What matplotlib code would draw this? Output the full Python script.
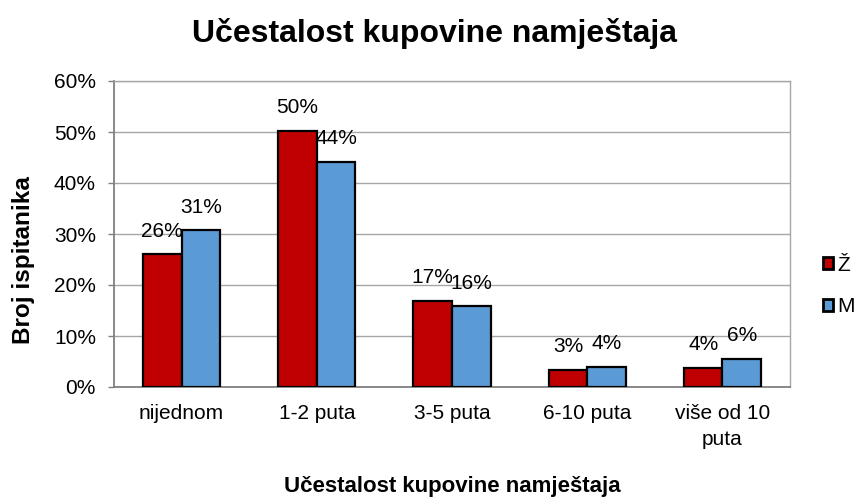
import matplotlib
matplotlib.use("Agg")
import matplotlib.pyplot as plt
import numpy as np

plt.rcParams['font.family'] = ['Liberation Sans', 'DejaVu Sans']

categories = ["nijednom", "1-2 puta", "3-5 puta", "6-10 puta", "više od 10\nputa"]
zene = [26.0, 50.2, 16.8, 3.3, 3.7]
muskarci = [30.7, 44.1, 15.8, 4.0, 5.5]
series_names = ["Ž", "M"]
yticks = [0, 10, 20, 30, 40, 50, 60]
title = "Učestalost kupovine namještaja"

W, H = 856, 499
fig = plt.figure(figsize=(W/100, H/100), dpi=100)
L, R, T, B = 114, 790, 81, 387
ax = fig.add_axes([L/W, 1 - B/H, (R-L)/W, (B-T)/H])

x = np.arange(len(categories))
w = 0.285
b1 = ax.bar(x - w/2, zene, w, color="#C00000", edgecolor="black", linewidth=1.6, label=series_names[0], zorder=3)
b2 = ax.bar(x + w/2, muskarci, w, color="#5B9BD5", edgecolor="black", linewidth=1.6, label=series_names[1], zorder=3)

for bars, vals in ((b1, zene), (b2, muskarci)):
    for rect, v in zip(bars, vals):
        ax.annotate(f"{v:.0f}%", (rect.get_x() + rect.get_width()/2, v),
                    xytext=(0, 10), textcoords="offset points",
                    ha="center", va="bottom", fontsize=15, zorder=4)

ax.set_xlim(-0.5, len(categories) - 0.5)
ax.set_ylim(0, 60)
ax.set_yticks(yticks)
ax.set_yticklabels([f"{t}%" for t in yticks], fontsize=15)
ax.set_xticks(x)
ax.set_xticklabels(categories, fontsize=15, linespacing=1.5)
ax.tick_params(axis='x', length=0, pad=12)
ax.tick_params(axis='y', length=4, width=1, direction='out', color='#808080', pad=9)
ax.yaxis.grid(True, color="#A6A6A6", linewidth=1, zorder=0)
for s in ax.spines.values():
    s.set_color("#A6A6A6")
    s.set_linewidth(1)
ax.spines['left'].set_color("#808080")
ax.spines['left'].set_linewidth(1.3)
ax.spines['bottom'].set_color("#808080")
ax.spines['bottom'].set_linewidth(1.3)

fig.text(434.5/W, 1 - 42/H, title, fontsize=23, fontweight="bold", ha="center", va="baseline")

ax.set_xlabel(title, fontsize=16, fontweight="bold")
ax.xaxis.set_label_coords(0.5, (B - 492)/(B - T))
ax.xaxis.label.set_va("baseline")
ax.set_ylabel("Broj ispitanika", fontsize=17.5, fontweight="bold")
ax.yaxis.set_label_coords((24 - L)/(R - L), (B - 260)/(B - T))
ax.yaxis.label.set_va("center")

leg = ax.legend(loc="center left", bbox_to_anchor=((822.7 - L)/(R - L), (B - 286)/(B - T)),
                frameon=False, fontsize=15, handlelength=0.5, handleheight=0.5,
                handletextpad=0.2, labelspacing=1.1, borderaxespad=0, borderpad=0)
for h in leg.legend_handles:
    h.set_linewidth(2)

fig.savefig("out.png", dpi=100)
